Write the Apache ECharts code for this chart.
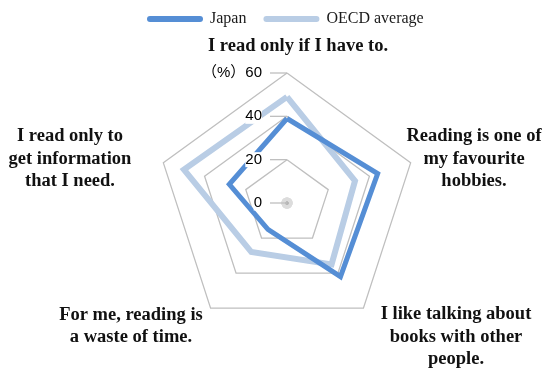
<!DOCTYPE html>
<html>
<head>
<meta charset="utf-8">
<script src="https://cdn.jsdelivr.net/npm/echarts@6/dist/echarts.min.js"></script>
<style>
  html, body { margin: 0; padding: 0; background: #fff; }
  #chart { width: 546px; height: 368px; }
</style>
</head>
<body>
<div id="chart"></div>
<script>
// Statements, listed counter-clockwise from the top (ECharts radar order)
const categories = [
  'I read only if I have to.',
  'I read only to\nget information\nthat I need.',
  'For me, reading is\na waste of time.',
  'I like talking about\nbooks with other\npeople.',
  'Reading is one of\nmy favourite\nhobbies.'
];
// Share of students agreeing (%)
const japan = [39, 28, 15, 42, 44];
const oecd = [49, 50, 28, 35, 33];
const seriesNames = ['Japan', 'OECD average'];
const ticks = [0, 20, 40, 60];

// Where each statement label sits around the web
const labelLayout = [
  { x: 298, y: 46 },
  { x: 70, y: 159 },
  { x: 131, y: 326 },
  { x: 456, y: 337 },
  { x: 474, y: 159 }
];

const serif = '"Liberation Serif", "Times New Roman", serif';
const capsule = 'path://M3,0 L53,0 A3,3 0 0 1 53,6 L3,6 A3,3 0 0 1 3,0 Z';
const gridGray = '#BFBFBF';
const webCenter = [287, 203];
const webRadius = 130;
const tickLength = 17;
const scaleMin = ticks[0];
const scaleMax = ticks[ticks.length - 1];

const chart = echarts.init(document.getElementById('chart'));

const baseIndicator = categories.map(c => ({ name: c, min: scaleMin, max: scaleMax }));

// Scale labels only on the top spoke
const scaleIndicator = categories.map((c, i) => ({
  name: c,
  min: scaleMin,
  max: scaleMax,
  axisLabel: { show: i === 0 }
}));

chart.setOption({
  animation: false,
  legend: {
    data: seriesNames,
    left: 142,
    top: 6,
    itemWidth: 56,
    itemHeight: 6,
    itemGap: 17,
    icon: capsule,
    textStyle: { fontFamily: serif, fontSize: 16, color: '#1a1a1a', padding: [0, 0, 0, 2] }
  },
  radar: [
    {
      // the web itself, beneath the series
      center: webCenter,
      radius: webRadius,
      shape: 'polygon',
      startAngle: 90,
      splitNumber: ticks.length - 1,
      indicator: baseIndicator,
      axisName: { show: false },
      axisLine: { show: false },
      axisTick: { show: false },
      axisLabel: { show: false },
      splitArea: { show: false },
      splitLine: { lineStyle: { color: gridGray, width: 1.3 } }
    },
    {
      // value scale drawn above the series
      z: 10,
      center: webCenter,
      radius: webRadius,
      shape: 'polygon',
      startAngle: 90,
      splitNumber: ticks.length - 1,
      indicator: scaleIndicator,
      axisName: { show: false },
      axisLine: { show: false },
      axisTick: { show: false },
      splitArea: { show: false },
      splitLine: { show: false },
      axisLabel: {
        show: true,
        margin: 25,
        color: '#000',
        fontSize: 15,
        fontFamily: '"Liberation Sans", "Noto Sans CJK SC", sans-serif',
        backgroundColor: '#fff',
        formatter: v => (v === scaleMax ? '（%）' + v : String(v))
      }
    }
  ],
  // polar frame sharing the web's geometry, used to place the scale ticks
  polar: { center: webCenter, radius: webRadius },
  radiusAxis: { show: false, min: scaleMin, max: scaleMax },
  angleAxis: { show: false, type: 'value', min: 0, max: 360, startAngle: 90 },
  graphic: categories.map((c, i) => ({
    type: 'text',
    x: labelLayout[i].x,
    y: labelLayout[i].y,
    silent: true,
    style: {
      text: c,
      align: 'center',
      verticalAlign: 'middle',
      font: 'bold 18.5px ' + serif,
      lineHeight: 22.5,
      fill: '#111'
    }
  })),
  series: [
    {
      type: 'radar',
      radarIndex: 0,
      silent: true,
      symbol: 'none',
      z: 2,
      data: [
        {
          name: seriesNames[1],
          value: oecd,
          itemStyle: { color: '#B9CDE5' },
          lineStyle: { color: '#B9CDE5', width: 6, join: 'miter' }
        }
      ]
    },
    {
      type: 'radar',
      radarIndex: 0,
      silent: true,
      symbol: 'none',
      z: 3,
      data: [
        {
          name: seriesNames[0],
          value: japan,
          itemStyle: { color: '#558ED5' },
          lineStyle: { color: '#558ED5', width: 5, join: 'miter' }
        }
      ]
    },
    {
      // marker at the origin of the web
      type: 'radar',
      radarIndex: 0,
      silent: true,
      symbol: 'circle',
      symbolSize: 11,
      z: 1,
      data: [
        {
          name: 'origin',
          value: [0, 0, 0, 0, 0],
          itemStyle: { color: '#DCDCDC' },
          lineStyle: { width: 0 }
        }
      ]
    },
    {
      type: 'radar',
      radarIndex: 0,
      silent: true,
      symbol: 'circle',
      symbolSize: 3,
      z: 1,
      data: [
        {
          name: 'origin-dot',
          value: [0, 0, 0, 0, 0],
          itemStyle: { color: '#B5B5B5' },
          lineStyle: { width: 0 }
        }
      ]
    },
    {
      // short tick marks to the left of the top spoke
      type: 'custom',
      coordinateSystem: 'polar',
      silent: true,
      z: 10,
      data: ticks.map(v => [v, 0]),
      renderItem: (params, api) => {
        const p = api.coord([api.value(0), api.value(1)]);
        return {
          type: 'line',
          shape: { x1: p[0] - tickLength, y1: p[1], x2: p[0], y2: p[1] },
          style: { stroke: gridGray, lineWidth: 1.3 }
        };
      }
    }
  ]
});
</script>
</body>
</html>
